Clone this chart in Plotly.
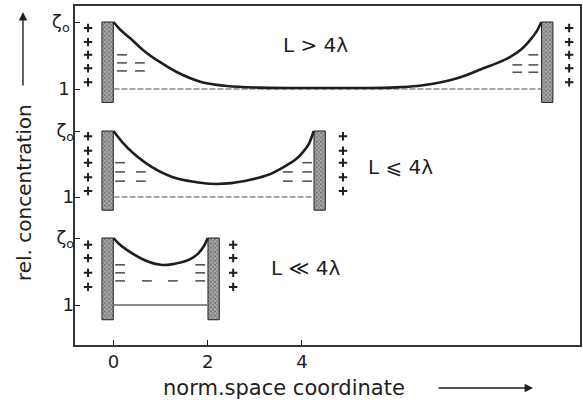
import plotly.graph_objects as go

# ---------------- data (x: norm. space coordinate, c: rel. concentration, zeta0 = 2) -------------
# panel 1 : L > 4λ
x1 = [0, 0.15, 0.35, 0.63, 0.99, 1.35, 1.84, 2.41, 3.11, 3.81, 4.6, 5.4, 6.0, 6.44, 6.87, 7.14, 7.5, 7.85, 8.15, 8.42, 8.65, 8.84, 8.98, 9.08]
c1 = [2.0, 1.88, 1.76, 1.58, 1.40, 1.25, 1.11, 1.045, 1.02, 1.015, 1.015, 1.015, 1.025, 1.045, 1.09, 1.13, 1.21, 1.31, 1.39, 1.48, 1.59, 1.73, 1.86, 2.0]
R1 = 9.08
# panel 2 : L ⩽ 4λ
x2 = [0, 0.2, 0.41, 0.8, 1.26, 1.7, 2.05, 2.50, 2.90, 3.30, 3.60, 3.85, 4.02, 4.15, 4.25]
c2 = [2.0, 1.82, 1.67, 1.46, 1.30, 1.23, 1.20, 1.21, 1.26, 1.34, 1.45, 1.56, 1.68, 1.81, 2.0]
R2 = 4.25
# panel 3 : L ≪ 4λ
x3 = [0, 0.12, 0.29, 0.63, 1.0, 1.26, 1.62, 1.8, 1.92, 2.0]
c3 = [2.0, 1.91, 1.82, 1.68, 1.60, 1.61, 1.68, 1.77, 1.88, 2.0]
R3 = 2.0

# electrode bar extent (rel. concentration)
bar_bottom = [0.80, 0.80, 0.78]
bar_top = [2.0, 2.0, 2.0]

# "+" charges beside the electrodes
plus_c1 = [1.91, 1.70, 1.51, 1.31, 1.10]
plus_c2 = [1.92, 1.70, 1.52, 1.30, 1.09]
plus_c3 = [1.90, 1.70, 1.48, 1.27]
plus_xl = -0.54
plus_xr = [9.67, 4.87, 2.54]

# "-" charges in the solution
m1_x = [0.18, 0.18, 0.18, 0.56, 0.56, 8.91, 8.57, 8.91, 8.57, 8.91]
m1_c = [1.51, 1.39, 1.27, 1.39, 1.27, 1.51, 1.36, 1.36, 1.25, 1.25]
m2_x = [0.14, 0.14, 0.14, 0.58, 0.58, 4.11, 4.11, 4.11, 3.70, 3.70]
m2_c = [1.52, 1.38, 1.24, 1.38, 1.24, 1.52, 1.38, 1.24, 1.38, 1.24]
m3_x = [0.14, 0.14, 0.14, 0.71, 1.26, 1.84, 1.84, 1.84]
m3_c = [1.60, 1.48, 1.36, 1.36, 1.36, 1.60, 1.48, 1.36]

labels = ["L > 4λ", "L ⩽ 4λ", "L ≪ 4λ"]
x_ticks = [0, 2, 4]
y_tickvals = [1, 2]
y_ticktext = ["1", "ζ<sub>o</sub>"]

# ---------------- layout geometry ----------------
W, H = 583, 400
ML, MR, MT, MB = 75, 3, 6, 55
PT, PB = MT, H - MB  # plot top / bottom pixel
panel_px = [(89, 22), (197, 131), (305, 238)]  # pixel of c=1 and c=zeta0


def yrange(p1, pz):
    s = p1 - pz
    lo = 1 - (PB - p1) / s
    return [lo, lo + (PB - PT) / s]


FONT = "DejaVu Sans"
INK = "#1e1e1e"

fig = go.Figure()
panels = [(x1, c1, R1, plus_c1, m1_x, m1_c), (x2, c2, R2, plus_c2, m2_x, m2_c), (x3, c3, R3, plus_c3, m3_x, m3_c)]
yids = ["y", "y2", "y3"]
for i, (xs, cs, R, pc, mx, mc) in enumerate(panels):
    ya = yids[i]
    # baseline c = 1
    fig.add_trace(go.Scatter(x=[0, R], y=[1, 1], yaxis=ya, mode="lines",
                             line=dict(color="#8a8a8a", width=1.5 if i < 2 else 2,
                                       dash="6px,2px" if i < 2 else "solid"),
                             showlegend=False, hoverinfo="skip"))
    # electrodes
    fig.add_trace(go.Bar(x=[-0.125, R + 0.125], y=[bar_top[i] - bar_bottom[i]] * 2,
                         base=[bar_bottom[i]] * 2, width=0.24, yaxis=ya,
                         marker=dict(color="#9a9a9a", line=dict(color=INK, width=1),
                                     pattern=dict(shape="x", size=3, solidity=0.45,
                                                  fgcolor="#333333", bgcolor="#a8a8a8")),
                         showlegend=False, hoverinfo="skip"))
    # concentration profile
    fig.add_trace(go.Scatter(x=xs, y=cs, yaxis=ya, mode="lines",
                             line=dict(color=INK, width=2.6, shape="spline", smoothing=0.7),
                             showlegend=False))
    # + charges
    fig.add_trace(go.Scatter(x=[plus_xl] * len(pc) + [plus_xr[i]] * len(pc), y=pc + pc, yaxis=ya,
                             mode="markers",
                             marker=dict(symbol="cross-thin", size=6, line=dict(color=INK, width=2)),
                             showlegend=False, hoverinfo="skip"))
    # - charges
    fig.add_trace(go.Scatter(x=mx, y=mc, yaxis=ya, mode="markers",
                             marker=dict(symbol="line-ew", size=7, line=dict(color="#555555", width=1.6)),
                             showlegend=False, hoverinfo="skip"))

axis_common = dict(showgrid=False, zeroline=False, ticks="inside", ticklen=5, tickwidth=1.2,
                   tickcolor=INK, tickfont=dict(family=FONT, size=18, color=INK),
                   tickvals=y_tickvals, ticktext=y_ticktext, fixedrange=True, automargin=False)

fig.update_layout(
    width=W, height=H,
    margin=dict(l=ML, r=MR, t=MT, b=MB, autoexpand=False),
    paper_bgcolor="white", plot_bgcolor="white",
    barmode="overlay", showlegend=False,
    font=dict(family=FONT, color=INK),
    xaxis=dict(range=[-0.817, 9.90], tickvals=x_ticks, showgrid=False, zeroline=False,
               ticks="inside", ticklen=5, tickwidth=1.2, tickcolor=INK, automargin=False,
               tickfont=dict(family=FONT, size=18, color=INK),
               showline=True, linecolor="#333333", linewidth=1.6, mirror=True),
    yaxis=dict(range=yrange(*panel_px[0]), showline=True, linecolor="#333333", linewidth=1.6,
               mirror=True, **axis_common),
    yaxis2=dict(range=yrange(*panel_px[1]), overlaying="y", anchor="x", side="left", **axis_common),
    yaxis3=dict(range=yrange(*panel_px[2]), overlaying="y", anchor="x", side="left", **axis_common),
)

# case labels
label_pos = [(4.28, 0.885), (6.10, 0.525), (4.09, 0.227)]
for t, (lx, ly) in zip(labels, label_pos):
    fig.add_annotation(x=lx, y=ly, xref="x", yref="paper", text=t, showarrow=False,
                       xanchor="center", yanchor="middle",
                       font=dict(family=FONT, size=20, color=INK))

# axis titles with arrows
fig.add_annotation(x=-0.101, y=0.451, xref="paper", yref="paper", text="rel. concentration",
                   textangle=-90, showarrow=False, xanchor="center", yanchor="middle",
                   font=dict(family=FONT, size=20, color=INK))
fig.add_annotation(x=-0.103, y=0.982, xref="paper", yref="paper", text="", showarrow=True,
                   ax=0, ay=75, arrowhead=2, arrowsize=1.2, arrowwidth=1.4, arrowcolor=INK)
fig.add_annotation(x=0.413, y=-0.127, xref="paper", yref="paper", text="norm.space coordinate",
                   showarrow=False, xanchor="center", yanchor="middle",
                   font=dict(family=FONT, size=21, color=INK))
fig.add_annotation(x=0.907, y=-0.127, xref="paper", yref="paper", text="", showarrow=True,
                   ax=-96, ay=0, arrowhead=2, arrowsize=1.2, arrowwidth=1.4, arrowcolor=INK)

fig.write_html("out.html", config={"displayModeBar": False},
               post_script="document.body.style.margin='0px';document.body.style.overflow='hidden';")
